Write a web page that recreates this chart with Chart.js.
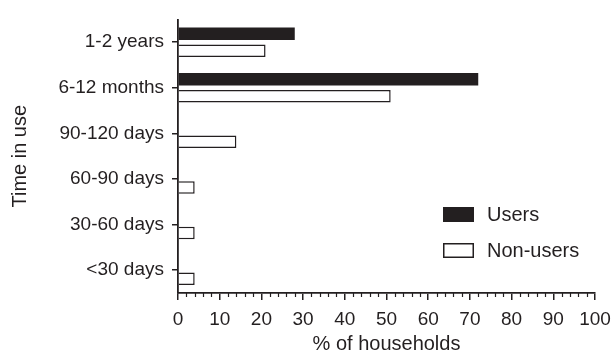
<!DOCTYPE html>
<html>
<head>
<meta charset="utf-8">
<script src="https://cdn.jsdelivr.net/npm/chart.js@4"></script>
<style>
  html, body { margin: 0; padding: 0; background: #fff; }
  #wrap { width: 614px; height: 355px; }
</style>
</head>
<body>
<div id="wrap"><canvas id="graphique" width="614" height="355"></canvas></div>
<script>
// données
var categories = ['1-2 years', '6-12 months', '90-120 days', '60-90 days', '30-60 days', '<30 days'];
var users = [28, 72, 0, 0, 0, 0];
var nonUsers = [21, 51, 14, 4, 4, 4];
var xTicks = [0, 10, 20, 30, 40, 50, 60, 70, 80, 90, 100];
var minorStep = 2;

var ink = '#231f20';
var police = "'Liberation Sans', Arial, sans-serif";

// petites graduations + légende dans la zone du graphique
var extras = {
  id: 'extras',
  afterDraw: function(chart) {
    var ctx = chart.ctx;
    var x = chart.scales.x;
    ctx.save();
    ctx.strokeStyle = ink;
    ctx.lineWidth = 1.2;
    for (var v = x.min; v <= x.max; v += minorStep) {
      if (v % 10 === 0) continue;
      var px = Math.round(x.getPixelForValue(v)) + 0.5;
      ctx.beginPath();
      ctx.moveTo(px, x.top);
      ctx.lineTo(px, x.top + 4);
      ctx.stroke();
    }

    // légende
    var lx = 443, ly = 207;
    ctx.font = '20px ' + police;
    ctx.textBaseline = 'middle';
    chart.data.datasets.forEach(function(ds, i) {
      var y = ly + i * 36;
      ctx.fillStyle = ds.backgroundColor;
      ctx.fillRect(lx, y, 31, 15);
      ctx.lineWidth = 1.5;
      ctx.strokeStyle = ink;
      ctx.strokeRect(lx + 0.75, y + 0.75, 29.5, 13.5);
      ctx.fillStyle = ink;
      ctx.fillText(ds.label, lx + 44, y + 8);
    });
    ctx.restore();
  }
};

document.addEventListener('DOMContentLoaded', function() {
  var ctx = document.getElementById('graphique').getContext('2d');
  var chart = new Chart(ctx, {
    type: 'bar',
    data: {
      labels: categories,
      datasets: [{
        label: 'Users',
        data: users,
        backgroundColor: ink,
        borderWidth: 0
      }, {
        label: 'Non-users',
        data: nonUsers,
        backgroundColor: '#ffffff',
        borderColor: ink,
        borderWidth: 1.5
      }]
    },
    options: {
      indexAxis: 'y',
      responsive: false,
      animation: false,
      categoryPercentage: 0.74,
      barPercentage: 0.74,
      layout: { padding: { left: 4, right: 19, top: 15, bottom: 0 } },
      plugins: {
        legend: { display: false },
        tooltip: { enabled: false }
      },
      scales: {
        x: {
          min: 0,
          max: 100,
          afterBuildTicks: function(scale) {
            scale.ticks = xTicks.map(function(v) { return { value: v }; });
          },
          afterFit: function(scale) {
            scale.paddingRight = 0;
            scale.height = 62;
          },
          grid: {
            drawOnChartArea: false,
            drawTicks: true,
            tickLength: 7,
            color: ink,
            lineWidth: 1.5
          },
          border: { display: true, color: ink, width: 1.8 },
          ticks: {
            color: ink,
            font: { family: police, size: 19, lineHeight: 1 },
            padding: 10,
            maxRotation: 0,
            autoSkip: false
          },
          title: {
            display: true,
            text: '% of households',
            color: ink,
            font: { family: police, size: 20, lineHeight: 1 },
            padding: { top: 0, bottom: 1 }
          }
        },
        y: {
          afterFit: function(scale) { scale.width = 174; },
          grid: {
            offset: false,
            drawOnChartArea: false,
            drawTicks: true,
            tickLength: 6,
            color: ink,
            lineWidth: 1.5
          },
          border: { display: true, color: ink, width: 1.8 },
          ticks: {
            color: ink,
            font: { family: police, size: 19 },
            padding: 8
          },
          title: {
            display: true,
            text: 'Time in use',
            color: ink,
            font: { family: police, size: 20 },
            padding: { top: 4, bottom: 4 }
          }
        }
      }
    },
    plugins: [extras]
  });
});
</script>
</body>
</html>
